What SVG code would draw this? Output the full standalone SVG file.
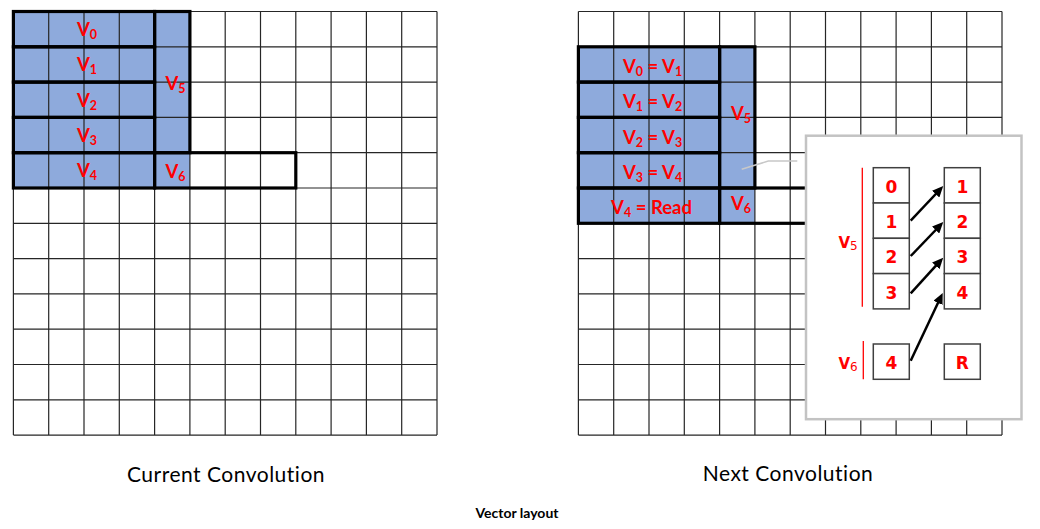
<svg xmlns="http://www.w3.org/2000/svg" width="1040" height="529" viewBox="0 0 1040 529">
<defs>
<style>
.grid{fill:none;stroke:#262626;stroke-width:1.2}
.blue{fill:#8eaadc;stroke:none}
.thick{fill:none;stroke:#000;stroke-width:3.2}
.lbl{font-family:Lato,"Liberation Sans",sans-serif;font-weight:bold;font-size:18.5px;fill:#ff0000}
.sub{font-size:12.5px}
.num{font-family:"DejaVu Sans","Liberation Sans",sans-serif;font-weight:bold;font-size:17px;fill:#ff0000;text-anchor:middle}
.vl{font-family:"DejaVu Sans","Liberation Sans",sans-serif;font-weight:bold;font-size:15px;fill:#ff0000}
.vsub{font-size:12px;font-weight:normal}
.cell{fill:#fff;stroke:#404040;stroke-width:1.5}
.cap{font-family:Lato,"Liberation Sans",sans-serif;font-size:21px;letter-spacing:0.5px;fill:#000;text-anchor:middle}
.arrow{stroke:#000;stroke-width:2.5;fill:none;marker-end:url(#ah)}
.redline{stroke:#ff0000;stroke-width:1.3}
</style>
<marker id="ah" markerUnits="userSpaceOnUse" markerWidth="11" markerHeight="10" viewBox="0 0 11 10" refX="7" refY="5" orient="auto">
<path d="M0,0 L11,5 L0,10 z" fill="#000"/>
</marker>
</defs>
<rect width="1040" height="529" fill="#fff"/>

<g id="left-grid">
<rect class="blue" x="13.4" y="11.5" width="141.2" height="176.5"/>
<rect class="blue" x="154.6" y="11.5" width="35.3" height="176.5"/>
<path class="grid" d="M13.4 11.5V435.1M48.7 11.5V435.1M84 11.5V435.1M119.3 11.5V435.1M154.6 11.5V435.1M189.9 11.5V435.1M225.2 11.5V435.1M260.5 11.5V435.1M295.8 11.5V435.1M331.1 11.5V435.1M366.4 11.5V435.1M401.7 11.5V435.1M437 11.5V435.1M13.4 11.5H437M13.4 46.8H437M13.4 82.1H437M13.4 117.4H437M13.4 152.7H437M13.4 188H437M13.4 223.3H437M13.4 258.6H437M13.4 293.9H437M13.4 329.2H437M13.4 364.5H437M13.4 399.8H437M13.4 435.1H437"/>
<g id="left-v0"><rect class="thick" x="13.4" y="11.5" width="141.2" height="35.3"/><text class="lbl" x="87" y="36.3" text-anchor="middle">V<tspan class="sub" dy="3">0</tspan></text></g>
<g id="left-v1"><rect class="thick" x="13.4" y="46.8" width="141.2" height="35.3"/><text class="lbl" x="87" y="71.4" text-anchor="middle">V<tspan class="sub" dy="3">1</tspan></text></g>
<g id="left-v2"><rect class="thick" x="13.4" y="82.1" width="141.2" height="35.3"/><text class="lbl" x="87" y="106.8" text-anchor="middle">V<tspan class="sub" dy="3">2</tspan></text></g>
<g id="left-v3"><rect class="thick" x="13.4" y="117.4" width="141.2" height="35.3"/><text class="lbl" x="87" y="141.9" text-anchor="middle">V<tspan class="sub" dy="3">3</tspan></text></g>
<g id="left-v4"><rect class="thick" x="13.4" y="152.7" width="141.2" height="35.3"/><text class="lbl" x="87" y="177" text-anchor="middle">V<tspan class="sub" dy="3">4</tspan></text></g>
<g id="left-v5"><rect class="thick" x="154.6" y="11.5" width="35.3" height="141.2"/><text class="lbl" x="165.5" y="90">V<tspan class="sub" dy="3">5</tspan></text></g>
<g id="left-v6"><rect class="thick" x="154.6" y="152.7" width="141.2" height="35.3"/><text class="lbl" x="165.5" y="178.3">V<tspan class="sub" dy="3">6</tspan></text></g>
<text class="cap" x="226" y="481.7">Current Convolution</text>
</g>

<g id="right-grid">
<rect class="blue" x="578.4" y="46.8" width="141.2" height="176.5"/>
<rect class="blue" x="719.6" y="46.8" width="35.3" height="176.5"/>
<path class="grid" d="M578.4 11.5V435.1M613.7 11.5V435.1M649 11.5V435.1M684.3 11.5V435.1M719.6 11.5V435.1M754.9 11.5V435.1M790.2 11.5V435.1M825.5 11.5V435.1M860.8 11.5V435.1M896.1 11.5V435.1M931.4 11.5V435.1M966.7 11.5V435.1M1002 11.5V435.1M578.4 11.5H1002M578.4 46.8H1002M578.4 82.1H1002M578.4 117.4H1002M578.4 152.7H1002M578.4 188H1002M578.4 223.3H1002M578.4 258.6H1002M578.4 293.9H1002M578.4 329.2H1002M578.4 364.5H1002M578.4 399.8H1002M578.4 435.1H1002"/>
<g id="right-v0"><rect class="thick" x="578.4" y="46.8" width="141.2" height="35.3"/><text class="lbl" x="652.5" y="72.7" text-anchor="middle">V<tspan class="sub" dy="3">0</tspan><tspan dy="-3"> = V</tspan><tspan class="sub" dy="3">1</tspan></text></g>
<g id="right-v1"><rect class="thick" x="578.4" y="82.1" width="141.2" height="35.3"/><text class="lbl" x="652.5" y="108.2" text-anchor="middle">V<tspan class="sub" dy="3">1</tspan><tspan dy="-3"> = V</tspan><tspan class="sub" dy="3">2</tspan></text></g>
<g id="right-v2"><rect class="thick" x="578.4" y="117.4" width="141.2" height="35.3"/><text class="lbl" x="652.5" y="143.5" text-anchor="middle">V<tspan class="sub" dy="3">2</tspan><tspan dy="-3"> = V</tspan><tspan class="sub" dy="3">3</tspan></text></g>
<g id="right-v3"><rect class="thick" x="578.4" y="152.7" width="141.2" height="35.3"/><text class="lbl" x="652.5" y="178.8" text-anchor="middle">V<tspan class="sub" dy="3">3</tspan><tspan dy="-3"> = V</tspan><tspan class="sub" dy="3">4</tspan></text></g>
<g id="right-v4"><rect class="thick" x="578.4" y="188" width="141.2" height="35.3"/><text class="lbl" x="651.5" y="214.2" text-anchor="middle">V<tspan class="sub" dy="3">4</tspan><tspan dy="-3"> = Read</tspan></text></g>
<g id="right-v5"><rect class="thick" x="719.6" y="46.8" width="35.3" height="141.2"/><text class="lbl" x="731" y="120">V<tspan class="sub" dy="3">5</tspan></text></g>
<g id="right-v6"><rect class="thick" x="719.6" y="188" width="141.2" height="35.3"/><text class="lbl" x="731" y="210">V<tspan class="sub" dy="3">6</tspan></text></g>
<text class="cap" x="788" y="481">Next Convolution</text>
</g>

<g id="callout">
<rect x="806" y="135.7" width="215.5" height="283.5" fill="#fff" stroke="#c3c3c3" stroke-width="2.5"/>
<g id="src-col">
<rect class="cell" x="873.3" y="167.7" width="36" height="35.3"/><text class="num" x="891.3" y="192.6">0</text>
<rect class="cell" x="873.3" y="203" width="36" height="35.3"/><text class="num" x="891.3" y="227.9">1</text>
<rect class="cell" x="873.3" y="238.3" width="36" height="35.3"/><text class="num" x="891.3" y="263.2">2</text>
<rect class="cell" x="873.3" y="273.6" width="36" height="35.3"/><text class="num" x="891.3" y="298.5">3</text>
<rect class="cell" x="873.3" y="344" width="36" height="35.3"/><text class="num" x="891.3" y="368.9">4</text>
</g>
<g id="dst-col">
<rect class="cell" x="944.3" y="167.7" width="36" height="35.3"/><text class="num" x="962.3" y="192.6">1</text>
<rect class="cell" x="944.3" y="203" width="36" height="35.3"/><text class="num" x="962.3" y="227.9">2</text>
<rect class="cell" x="944.3" y="238.3" width="36" height="35.3"/><text class="num" x="962.3" y="263.2">3</text>
<rect class="cell" x="944.3" y="273.6" width="36" height="35.3"/><text class="num" x="962.3" y="298.5">4</text>
<rect class="cell" x="944.3" y="344" width="36" height="35.3"/><text class="num" x="962.3" y="368.9">R</text>
</g>
<g id="brace-v5"><line class="redline" x1="862.3" y1="167.7" x2="862.3" y2="306.7"/><text class="vl" x="838.5" y="247.5">V<tspan class="vsub" dy="2.5">5</tspan></text></g>
<g id="brace-v6"><line class="redline" x1="863.3" y1="341" x2="863.3" y2="379.3"/><text class="vl" x="838.5" y="368.5">V<tspan class="vsub" dy="2.5">6</tspan></text></g>
</g>

<g id="connectors">
<polyline points="741.7,169.3 768.3,161 797.3,161" fill="none" stroke="#c8c8c8" stroke-width="1.6"/>
<line class="arrow" x1="910.7" y1="220.7" x2="940.5" y2="189"/>
<line class="arrow" x1="910.7" y1="256" x2="940.5" y2="225"/>
<line class="arrow" x1="910.7" y1="293.3" x2="940.5" y2="260.7"/>
<line class="arrow" x1="910.7" y1="360.7" x2="941" y2="296.5"/>
</g>

<text id="title" x="517" y="517.7" font-family="Lato,'Liberation Sans',sans-serif" font-weight="bold" font-size="14" text-anchor="middle" fill="#000">Vector layout</text>
</svg>
